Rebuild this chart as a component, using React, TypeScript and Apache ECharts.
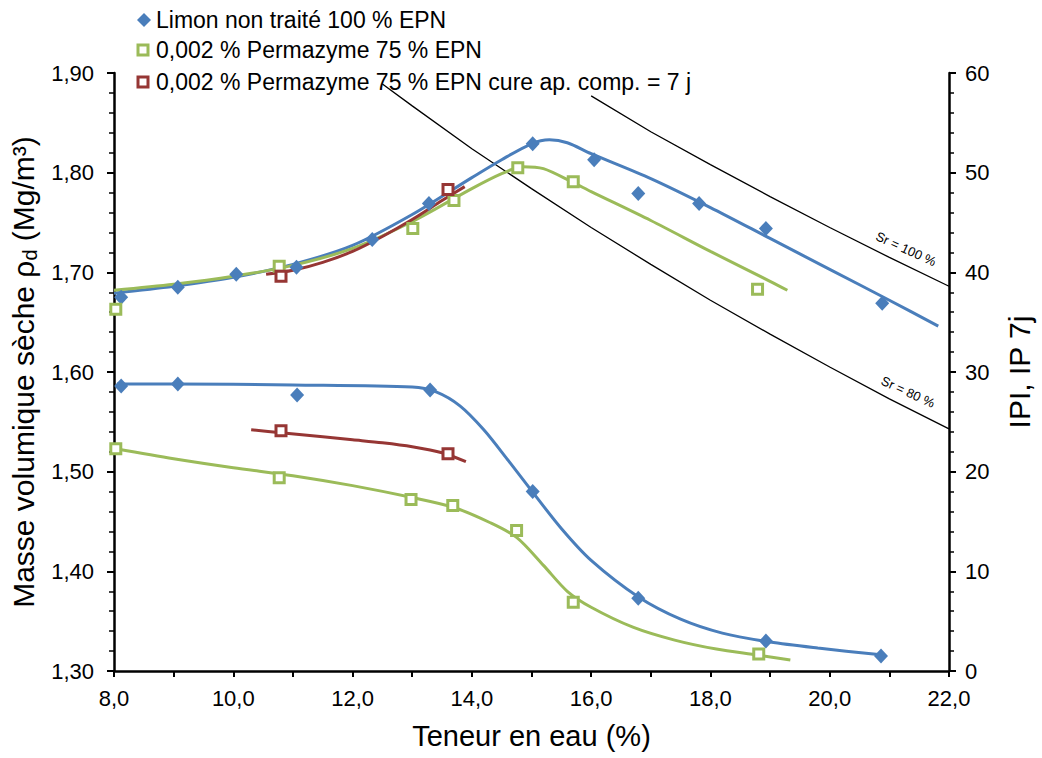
import React, { useEffect, useRef } from "react";
import * as echarts from "echarts";

// ---- Data ----
// Measured points: dry density (left axis)
const blueRhoW = [8.12, 9.07, 10.05, 11.06, 12.33, 13.28, 15.02, 16.05, 16.79, 17.81, 18.93, 20.88];
const blueRho = [1.675, 1.685, 1.698, 1.705, 1.733, 1.769, 1.829, 1.813, 1.779, 1.769, 1.744, 1.669];
const greenRhoW = [8.03, 10.77, 13.01, 13.7, 14.77, 15.7, 18.79];
const greenRho = [1.663, 1.706, 1.744, 1.772, 1.805, 1.791, 1.683];
const redRhoW = [10.8, 13.6];
const redRho = [1.696, 1.783];

// Measured points: IPI / IP 7j (right axis)
const blueIpW = [8.12, 9.07, 11.07, 13.3, 15.02, 16.79, 18.93, 20.86];
const blueIp = [28.6, 28.8, 27.7, 28.2, 18.0, 7.3, 3.0, 1.5];
const greenIpW = [8.03, 10.77, 12.98, 13.68, 14.75, 15.7, 18.81];
const greenIp = [22.3, 19.4, 17.2, 16.6, 14.1, 6.9, 1.7];
const redIpW = [10.8, 13.6];
const redIp = [24.1, 21.8];

// Fitted curves
const blueRhoFitW = [8.0, 9.0, 10.0, 11.0, 12.0, 13.0, 14.0, 14.5, 15.0, 15.3, 15.6, 16.0, 17.0, 18.0, 19.0, 20.0, 21.0, 21.82];
const blueRhoFit = [1.679, 1.686, 1.695, 1.708, 1.727, 1.758, 1.795, 1.813, 1.829, 1.833, 1.83, 1.819, 1.794, 1.765, 1.734, 1.703, 1.672, 1.646];
const greenRhoFitW = [8.0, 9.0, 10.0, 11.0, 12.0, 13.0, 14.0, 14.5, 14.85, 15.2, 15.7, 16.0, 17.0, 18.0, 19.0, 19.29];
const greenRhoFit = [1.682, 1.688, 1.696, 1.707, 1.724, 1.751, 1.784, 1.799, 1.806, 1.804, 1.79, 1.781, 1.752, 1.721, 1.691, 1.682];
const redRhoFitW = [10.55, 11.0, 11.5, 12.0, 12.5, 13.0, 13.5, 13.88];
const redRhoFit = [1.698, 1.702, 1.71, 1.721, 1.736, 1.753, 1.772, 1.786];

const blueIpFitW = [8.05, 9.0, 11.0, 13.0, 13.4, 13.8, 14.2, 14.6, 15.0, 15.5, 16.0, 16.8, 17.5, 18.2, 19.0, 19.8, 20.9];
const blueIpFit = [28.8, 28.8, 28.7, 28.5, 28.0, 26.6, 24.2, 21.2, 18.1, 14.3, 11.1, 7.4, 5.2, 3.8, 2.9, 2.3, 1.6];
const greenIpFitW = [8.03, 9.0, 10.0, 11.0, 12.0, 13.0, 13.7, 14.3, 14.75, 15.2, 15.6, 16.0, 16.7, 17.4, 18.1, 18.8, 19.34];
const greenIpFit = [22.3, 21.3, 20.4, 19.6, 18.6, 17.4, 16.4, 14.9, 13.4, 10.6, 8.0, 6.4, 4.4, 3.1, 2.2, 1.6, 1.1];
const redIpFitW = [10.3, 10.8, 11.5, 12.0, 12.5, 13.0, 13.5, 13.9];
const redIpFit = [24.2, 23.9, 23.5, 23.2, 22.9, 22.5, 21.9, 21.0];

// Saturation lines
const sr100W = [16, 17, 18, 19, 20, 21, 22];
const sr100Rho = [1.877, 1.841, 1.808, 1.776, 1.745, 1.715, 1.686];
const sr80W = [12.5, 13, 14, 15, 16, 17, 18, 19, 20, 21, 22];
const sr80Rho = [1.889, 1.867, 1.824, 1.784, 1.745, 1.708, 1.672, 1.638, 1.605, 1.573, 1.543];

const legendNames = [
  "Limon non traité 100 % EPN",
  "0,002 % Permazyme 75 % EPN",
  "0,002 % Permazyme 75 % EPN cure ap. comp. = 7 j",
];

const FONT = "'Liberation Sans', Arial, sans-serif";
const BLUE = "#4A7EBB";
const GREEN = "#9BBB59";
const RED = "#963634";

const pairs = (xs: number[], ys: number[]) => xs.map((x, i) => [x, ys[i]]);
const fmt = (v: number, d: number) => v.toFixed(d).replace(".", ",");

export default function App() {
  const ref = useRef<HTMLDivElement>(null);

  useEffect(() => {
    if (!ref.current) return;
    const chart = echarts.init(ref.current, undefined, { renderer: "svg" });

    const fitLine = (xs: number[], ys: number[], color: string, yAxisIndex: number) => ({
      type: "line",
      data: pairs(xs, ys),
      yAxisIndex,
      smooth: 0.3,
      symbol: "none",
      silent: true,
      lineStyle: { color, width: 3 },
      z: 3,
    });
    const srLine = (xs: number[], ys: number[]) => ({
      type: "line",
      data: pairs(xs, ys),
      yAxisIndex: 0,
      symbol: "none",
      silent: true,
      lineStyle: { color: "#000", width: 1.3 },
      z: 2,
    });
    const diamonds = (xs: number[], ys: number[], yAxisIndex: number) => ({
      type: "scatter",
      data: pairs(xs, ys),
      yAxisIndex,
      symbol: "diamond",
      symbolSize: [14, 15],
      itemStyle: { color: BLUE, opacity: 1 },
      z: 5,
    });
    const squares = (xs: number[], ys: number[], color: string, yAxisIndex: number) => ({
      type: "scatter",
      data: pairs(xs, ys),
      yAxisIndex,
      symbol: "rect",
      symbolSize: 10,
      itemStyle: { color: "#fff", borderColor: color, borderWidth: 3, opacity: 1 },
      z: 5,
    });

    const axisCommon = {
      axisLine: { show: true, lineStyle: { color: "#000", width: 2.5 } },
      splitLine: { show: false },
      minorSplitLine: { show: false },
    };

    const legendRows = [20, 50, 82];

    chart.setOption({
      animation: false,
      backgroundColor: "#fff",
      grid: { left: 114, right: 90, top: 73, bottom: 87, containLabel: false },
      xAxis: {
        type: "value",
        min: 8,
        max: 22,
        interval: 1,
        ...axisCommon,
        axisTick: { show: true, length: 6, lineStyle: { color: "#000", width: 2 } },
        axisLabel: {
          formatter: (v: number) => (Math.round(v) % 2 === 0 ? fmt(v, 1) : ""),
          fontSize: 22,
          color: "#000",
          fontFamily: FONT,
          margin: 16,
          showMaxLabel: true,
          showMinLabel: true,
        },
        name: "Teneur en eau (%)",
        nameLocation: "middle",
        nameGap: 50,
        nameTextStyle: { fontSize: 29, color: "#000", fontFamily: FONT },
      },
      yAxis: [
        {
          type: "value",
          min: 1.3,
          max: 1.9,
          interval: 0.1,
          position: "left",
          ...axisCommon,
          axisTick: { show: true, length: 7, lineStyle: { color: "#000", width: 2 } },
          minorTick: { show: true, splitNumber: 5, length: 5, lineStyle: { color: "#000", width: 1.5 } },
          axisLabel: {
            formatter: (v: number) => fmt(v, 2),
            fontSize: 22,
            color: "#000",
            fontFamily: FONT,
            margin: 20,
          },
          name: "{a|Masse volumique sèche ρ}{b|d}{a| (Mg/m³)}",
          nameLocation: "middle",
          nameRotate: 90,
          nameGap: 70,
          nameTextStyle: {
            color: "#000",
            fontFamily: FONT,
            fontSize: 30,
            rich: {
              a: { fontSize: 30, fontFamily: FONT, color: "#000" },
              b: { fontSize: 20, fontFamily: FONT, color: "#000", padding: [14, 0, 0, 0] },
            },
          },
        },
        {
          type: "value",
          min: 0,
          max: 60,
          interval: 10,
          position: "right",
          ...axisCommon,
          axisTick: { show: true, length: 7, lineStyle: { color: "#000", width: 2 } },
          minorTick: { show: true, splitNumber: 5, length: 5, lineStyle: { color: "#000", width: 1.5 } },
          axisLabel: {
            formatter: (v: number) => String(v),
            fontSize: 22,
            color: "#000",
            fontFamily: FONT,
            margin: 16,
          },
          name: "IPI, IP 7j",
          nameLocation: "middle",
          nameRotate: 90,
          nameGap: 55,
          nameTextStyle: { fontSize: 30, color: "#000", fontFamily: FONT },
        },
      ],
      series: [
        srLine(sr100W, sr100Rho),
        srLine(sr80W, sr80Rho),
        fitLine(blueRhoFitW, blueRhoFit, BLUE, 0),
        fitLine(greenRhoFitW, greenRhoFit, GREEN, 0),
        fitLine(redRhoFitW, redRhoFit, RED, 0),
        fitLine(blueIpFitW, blueIpFit, BLUE, 1),
        fitLine(greenIpFitW, greenIpFit, GREEN, 1),
        fitLine(redIpFitW, redIpFit, RED, 1),
        diamonds(blueRhoW, blueRho, 0),
        diamonds(blueIpW, blueIp, 1),
        squares(greenRhoW, greenRho, GREEN, 0),
        squares(greenIpW, greenIp, GREEN, 1),
        squares(redRhoW, redRho, RED, 0),
        squares(redIpW, redIp, RED, 1),
      ],
      graphic: [
        {
          type: "polygon",
          shape: { points: [[144, legendRows[0] - 7], [151, legendRows[0]], [144, legendRows[0] + 7], [137, legendRows[0]]] },
          style: { fill: BLUE },
        },
        {
          type: "rect",
          shape: { x: 138, y: legendRows[1] - 5, width: 10, height: 10 },
          style: { fill: "#fff", stroke: GREEN, lineWidth: 3 },
        },
        {
          type: "rect",
          shape: { x: 138, y: legendRows[2] - 5, width: 10, height: 10 },
          style: { fill: "#fff", stroke: RED, lineWidth: 3 },
        },
        ...legendNames.map((t, i) => ({
          type: "text",
          x: 156,
          y: legendRows[i],
          style: {
            text: t,
            fill: "#000",
            fontSize: 23,
            fontFamily: FONT,
            align: "left",
            verticalAlign: "middle",
          },
        })),
        {
          type: "text",
          x: 906,
          y: 249,
          rotation: -0.43,
          style: { text: "Sr = 100 %", fill: "#000", fontSize: 13, fontFamily: FONT, align: "center", verticalAlign: "middle" },
        },
        {
          type: "text",
          x: 908,
          y: 392,
          rotation: -0.43,
          style: { text: "Sr = 80 %", fill: "#000", fontSize: 13, fontFamily: FONT, align: "center", verticalAlign: "middle" },
        },
      ],
    });

    return () => chart.dispose();
  }, []);

  return (
    <div
      ref={ref}
      style={{ position: "absolute", left: 0, top: 0, width: 1042, height: 758, background: "#fff" }}
    />
  );
}
